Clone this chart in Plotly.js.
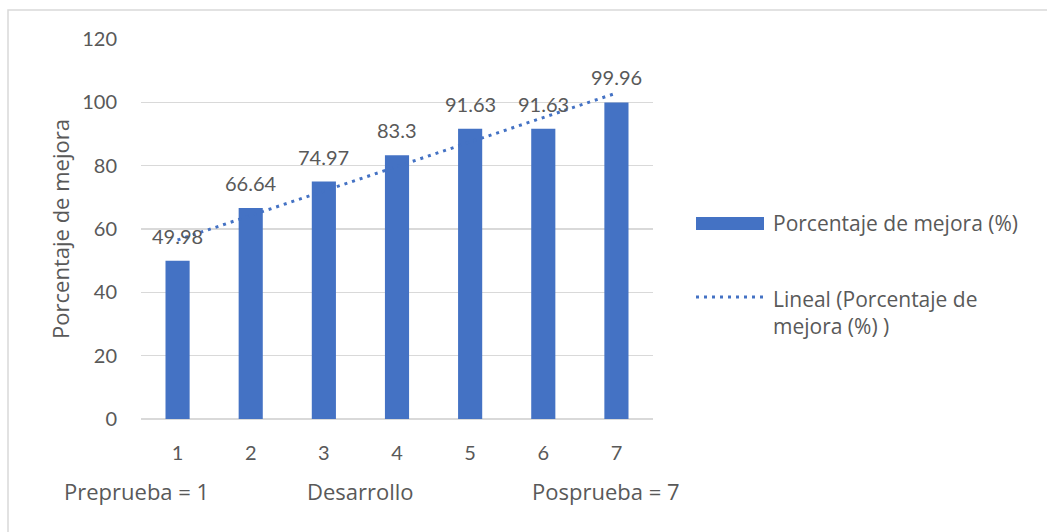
<!DOCTYPE html>
<html>
<head>
<meta charset="utf-8">
<script src="https://cdn.plot.ly/plotly-3.0.1.min.js"></script>
<style>
  html, body { margin: 0; padding: 0; background: #ffffff; }
  #chart { width: 1047px; height: 532px; }
</style>
</head>
<body>
<div id="chart"></div>
<script>
// ---- data ----
const categories = [1, 2, 3, 4, 5, 6, 7];
const tickLabels = ["1", "2", "3", "4", "5", "6", "7"];
const values = [49.98, 66.64, 74.97, 83.3, 91.63, 91.63, 99.96];
const seriesName = "Porcentaje de mejora (%)";
const trendName = "Lineal (Porcentaje de<br>mejora (%) )";
const yTicks = [0, 20, 40, 60, 80, 100, 120];
const yTitle = "Porcentaje de mejora";
const phaseLabels = ["Preprueba = 1", "Desarrollo", "Posprueba = 7"];

// ---- linear trendline (least squares, like Excel "Lineal") ----
const n = values.length;
const mx = categories.reduce((a, b) => a + b, 0) / n;
const my = values.reduce((a, b) => a + b, 0) / n;
let sxy = 0, sxx = 0;
for (let i = 0; i < n; i++) {
  sxy += (categories[i] - mx) * (values[i] - my);
  sxx += (categories[i] - mx) * (categories[i] - mx);
}
const slope = sxy / sxx;
const intercept = my - slope * mx;
const trendX = [categories[0], categories[n - 1]];
const trendY = trendX.map(x => intercept + slope * x);

const BLUE = "#4472C4";
const TXT = "#595959";
const FONT = "'Open Sans', Lato, sans-serif";
const NUMFONT = "Lato, 'Open Sans', sans-serif";

const bars = {
  type: "bar",
  x: categories,
  y: values,
  name: seriesName,
  marker: { color: BLUE },
  width: 0.33,
  hoverinfo: "x+y",
  showlegend: false
};

const trend = {
  type: "scatter",
  mode: "lines",
  x: trendX,
  y: trendY,
  name: trendName,
  line: { color: BLUE, width: 3, dash: "3px,5px" },
  hoverinfo: "skip",
  showlegend: false
};

// data labels above the bars
const labelAnns = categories.map((c, i) => ({
  x: c, y: values[i], xref: "x", yref: "y",
  text: String(values[i]),
  showarrow: false,
  yshift: 25,
  font: { family: NUMFONT, size: 20, color: TXT }
}));

// paper coordinate helpers (plot area 141..653 px horizontally, 39..419 vertically)
const L = 141, R = 653, T = 39, B = 419;
const px = v => (v - L) / (R - L);
const py = v => (B - v) / (B - T);

const phaseX = [136, 360, 606];
const phaseAnns = phaseLabels.map((t, i) => ({
  x: px(phaseX[i]), y: py(491), xref: "paper", yref: "paper",
  text: t, showarrow: false, xanchor: "center", yanchor: "middle",
  font: { family: FONT, size: 22, color: TXT }
}));

const legendAnns = [
  { x: px(771), y: py(223), xref: "paper", yref: "paper", text: seriesName,
    showarrow: false, xanchor: "left", yanchor: "middle",
    font: { family: FONT, size: 21, color: TXT } },
  { x: px(771), y: py(312), xref: "paper", yref: "paper", text: trendName,
    showarrow: false, xanchor: "left", yanchor: "middle", align: "left",
    font: { family: FONT, size: 21, color: TXT } }
];

const shapes = [
  // chart border
  { type: "rect", xref: "paper", yref: "paper",
    x0: px(8), x1: px(1060), y0: py(545), y1: py(10),
    line: { color: "#D9D9D9", width: 1.5 }, fillcolor: "rgba(0,0,0,0)", layer: "below" },
  // legend: bar swatch
  { type: "rect", xref: "paper", yref: "paper",
    x0: px(696), x1: px(764), y0: py(230), y1: py(217),
    line: { width: 0 }, fillcolor: BLUE },
  // legend: dotted line swatch
  { type: "line", xref: "paper", yref: "paper",
    x0: px(696), x1: px(766), y0: py(297), y1: py(297),
    line: { color: BLUE, width: 3, dash: "3px,5px" } }
];

const layout = {
  width: 1047,
  height: 532,
  margin: { l: L, r: 1047 - R, t: T, b: 532 - B },
  paper_bgcolor: "#ffffff",
  plot_bgcolor: "#ffffff",
  font: { family: FONT, size: 20, color: TXT },
  bargap: 0.67,
  showlegend: false,
  xaxis: {
    range: [0.5, 7.5],
    tickvals: categories,
    ticktext: tickLabels,
    showgrid: false,
    zeroline: false,
    showline: false,
    ticks: "",
    ticklabelstandoff: 20,
    tickfont: { family: NUMFONT, size: 20, color: TXT },
    fixedrange: true
  },
  yaxis: {
    range: [0, 120],
    tickvals: yTicks,
    ticktext: yTicks.map(String),
    showgrid: true,
    gridcolor: "#D9D9D9",
    gridwidth: 1.5,
    zeroline: true,
    zerolinecolor: "#D9D9D9",
    zerolinewidth: 1.5,
    showline: false,
    ticks: "",
    ticklabelstandoff: 23,
    tickfont: { family: NUMFONT, size: 20, color: TXT },
    title: { text: yTitle, font: { family: FONT, size: 22, color: TXT }, standoff: 6 },
    fixedrange: true
  },
  annotations: labelAnns.concat(phaseAnns, legendAnns),
  shapes: shapes
};

Plotly.newPlot("chart", [bars, trend], layout, { displayModeBar: false, staticPlot: true });
</script>
</body>
</html>
